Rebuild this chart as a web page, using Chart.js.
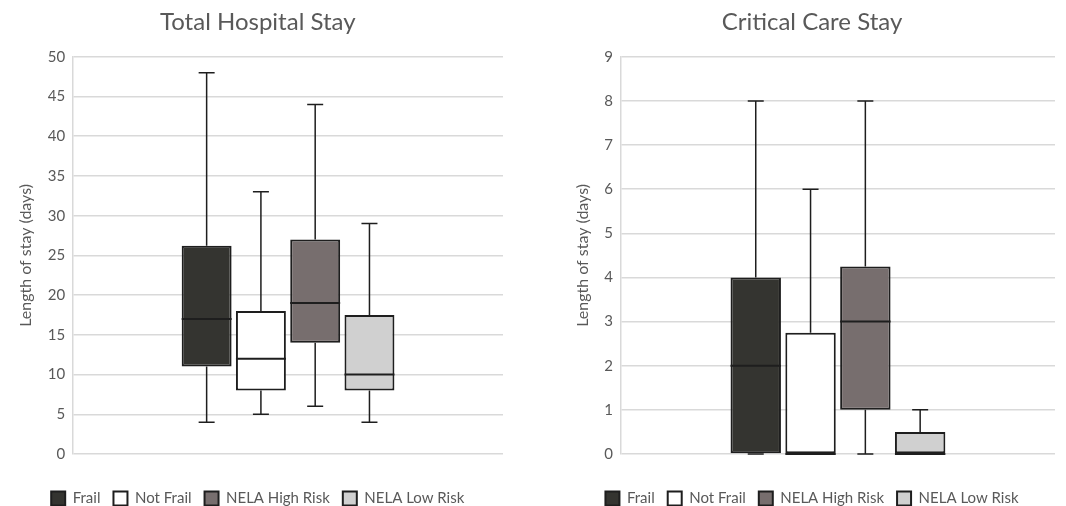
<!DOCTYPE html>
<html>
<head>
<meta charset="utf-8">
<script src="https://cdn.jsdelivr.net/npm/chart.js@4.4.0/dist/chart.umd.min.js"></script>
<style>
  body { margin: 0; background: #fff; width: 1066px; height: 506px; position: relative; overflow: hidden; }
  .box { position: absolute; top: 0; height: 506px; }
  #leftBox { left: 0; width: 514px; }
  #rightBox { left: 567px; width: 499px; }
</style>
</head>
<body>
<div class="box" id="leftBox"><canvas id="hospChart"></canvas></div>
<div class="box" id="rightBox"><canvas id="ccChart"></canvas></div>
<script>
const groups = ['Frail', 'Not Frail', 'NELA High Risk', 'NELA Low Risk'];
const colors = ['#343430', '#ffffff', '#776e6e', '#d0d0d0'];

// Total hospital stay (days)
const hospMin = [4, 5, 6, 4];
const hospQ1 = [11, 8, 14, 8];
const hospMedian = [17, 12, 19, 10];
const hospQ3 = [26.2, 18, 27, 17.5];
const hospMax = [48, 33, 44, 29];

// Critical care stay (days)
const ccMin = [0, 0, 0, 0];
const ccQ1 = [0, 0, 1, 0];
const ccMedian = [2, 0, 3, 0];
const ccQ3 = [4, 2.75, 4.25, 0.5];
const ccMax = [8, 6, 8, 1];

const textColor = '#595959';
const fontFamily = 'Lato, "Open Sans", sans-serif';

// whiskers + median lines, positioned from the bar elements and y scale
const boxPlotLines = {
  id: 'boxPlotLines',
  beforeDatasetsDraw(chart) {
    const stats = chart.options.plugins.boxPlotLines;
    const y = chart.scales.y;
    const ctx = chart.ctx;
    ctx.save();
    ctx.strokeStyle = '#1e1e1e';
    ctx.lineWidth = 1.5;
    chart.data.datasets.forEach((ds, i) => {
      const bar = chart.getDatasetMeta(i).data[0];
      const x = bar.x;
      const cap = 8;
      const yMin = y.getPixelForValue(stats.min[i]);
      const yMax = y.getPixelForValue(stats.max[i]);
      const yQ1 = y.getPixelForValue(stats.q1[i]);
      const yQ3 = y.getPixelForValue(stats.q3[i]);
      ctx.beginPath();
      ctx.moveTo(x, yQ3); ctx.lineTo(x, yMax);
      ctx.moveTo(x - cap, yMax); ctx.lineTo(x + cap, yMax);
      ctx.moveTo(x, yQ1); ctx.lineTo(x, yMin);
      ctx.moveTo(x - cap, yMin); ctx.lineTo(x + cap, yMin);
      ctx.stroke();
    });
    ctx.restore();
  },
  afterDatasetsDraw(chart) {
    const stats = chart.options.plugins.boxPlotLines;
    const y = chart.scales.y;
    const ctx = chart.ctx;
    ctx.save();
    ctx.strokeStyle = '#1e1e1e';
    ctx.lineWidth = 2;
    chart.data.datasets.forEach((ds, i) => {
      const bar = chart.getDatasetMeta(i).data[0];
      const yMed = y.getPixelForValue(stats.median[i]);
      ctx.beginPath();
      ctx.moveTo(bar.x - bar.width / 2, yMed);
      ctx.lineTo(bar.x + bar.width / 2, yMed);
      ctx.stroke();
    });
    ctx.restore();
  }
};

function renderBoxChart(id, title, yMax, padLeft, q1, q3, min, median, max) {
  new Chart(document.getElementById(id), {
    type: 'bar',
    data: {
      labels: [''],
      datasets: groups.map((g, i) => ({
        label: g,
        data: [[q1[i], q3[i]]],
        backgroundColor: colors[i],
        borderColor: '#1e1e1e',
        borderWidth: 2,
        borderSkipped: false,
        categoryPercentage: 0.505,
        barPercentage: 0.92
      }))
    },
    options: {
      responsive: true,
      maintainAspectRatio: false,
      animation: false,
      layout: { padding: { left: padLeft, right: 11, top: 6, bottom: -10 } },
      plugins: {
        title: {
          display: true,
          text: title,
          color: textColor,
          font: { family: fontFamily, size: 24, weight: 'normal' },
          padding: { top: 2, bottom: 20 }
        },
        legend: {
          display: true,
          position: 'bottom',
          labels: {
            color: textColor,
            font: { family: fontFamily, size: 15 },
            boxWidth: 14,
            boxHeight: 14,
            padding: 13
          }
        },
        tooltip: { enabled: false },
        boxPlotLines: { min: min, q1: q1, median: median, q3: q3, max: max }
      },
      scales: {
        x: {
          grid: { display: false },
          border: { display: false },
          ticks: { display: false },
          afterFit(scale) { scale.height = 24; }
        },
        y: {
          min: 0,
          max: yMax,
          ticks: {
            stepSize: yMax > 10 ? 5 : 1,
            color: textColor,
            font: { family: fontFamily, size: 15 },
            padding: 8
          },
          grid: { color: '#d9d9d9', lineWidth: 1.5, drawTicks: false },
          border: { color: '#d9d9d9', width: 1.5 },
          title: {
            display: true,
            text: 'Length of stay (days)',
            color: textColor,
            font: { family: fontFamily, size: 16 }
          }
        }
      }
    },
    plugins: [boxPlotLines]
  });
}

renderBoxChart('hospChart', 'Total Hospital Stay', 50, 12.5, hospQ1, hospQ3, hospMin, hospMedian, hospMax);
renderBoxChart('ccChart', 'Critical Care Stay', 9, 2, ccQ1, ccQ3, ccMin, ccMedian, ccMax);
</script>
</body>
</html>
